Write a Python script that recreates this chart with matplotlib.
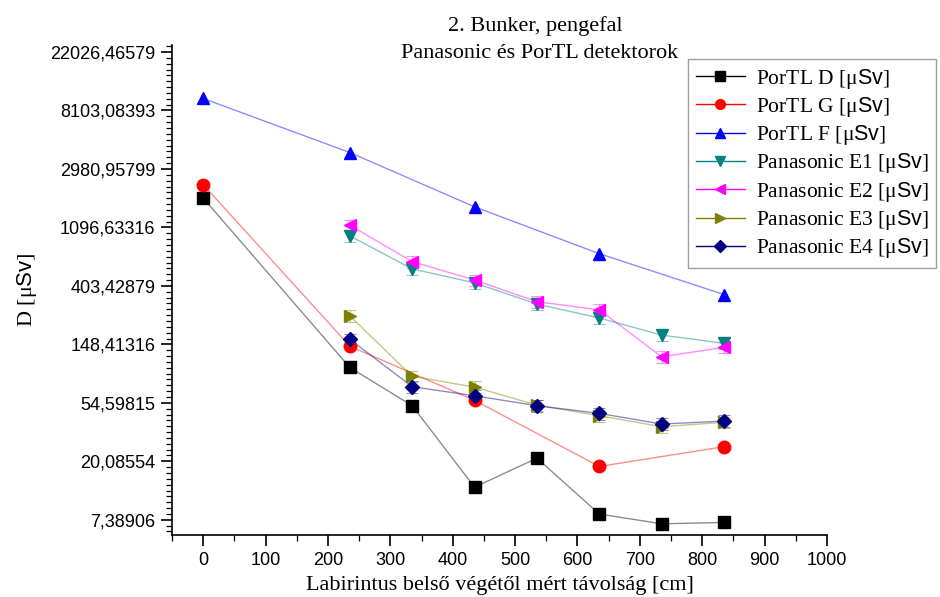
import matplotlib
matplotlib.use("Agg")
from matplotlib import pyplot as plt
from matplotlib.ticker import FixedLocator, FixedFormatter
import numpy as np

# distance from the inner end of the maze [cm]
x_full = [0, 235, 335, 435, 535, 635, 735, 835]
x_five = [0, 235, 435, 635, 835]
x_pan = [235, 335, 435, 535, 635, 735, 835]

portl_d = [1810, 100, 52, 12.9, 21.2, 8.15, 6.9, 7.06]
portl_g = [2280, 144, 57, 18.4, 25.8]
portl_f = [9950, 3950, 1560, 700, 348]

pan_e1 = [949, 540, 425, 296, 233, 174, 151]
pan_e2 = [1140, 611, 446, 308, 268, 120, 141]
pan_e3 = [242, 86, 71.5, 52.5, 43.8, 36.3, 39.2]
pan_e4 = [162, 72, 61.6, 52, 45.6, 38, 40]

err_e1 = [95, 54, 42, 30, 23, 17, 15]
err_e2 = [110, 60, 44, 30, 27, 12, 14]
err_e3 = [24, 8.6, 7.2, 5.3, 4.4, 3.6, 3.9]
err_e4 = [16, 7.2, 6.2, 5.2, 4.6, 3.8, 4.0]

unit = r'[μ$\mathsf{Sv}$]'
labels = ['PorTL D ' + unit, 'PorTL G ' + unit, 'PorTL F ' + unit,
          'Panasonic E1 ' + unit, 'Panasonic E2 ' + unit,
          'Panasonic E3 ' + unit, 'Panasonic E4 ' + unit]

serif = 'Liberation Serif'
sans = 'Liberation Sans'
plt.rcParams['mathtext.fontset'] = 'custom'
plt.rcParams['mathtext.sf'] = sans
plt.rcParams['mathtext.rm'] = serif

fig = plt.figure(figsize=(9.4, 5.97), dpi=100)
ax = fig.add_axes([172 / 940, 1 - 535 / 597, 655 / 940, 490 / 597])

def series(xs, ys, color, marker, label, yerr=None, ms=8, lms=7):
    ax.plot(xs, ys, color=color, alpha=0.45, linewidth=1.0, zorder=2)
    if yerr is not None:
        ax.errorbar(xs, ys, yerr=yerr, fmt='none', ecolor=color, alpha=0.45,
                    elinewidth=0.8, capsize=4, capthick=0.8, zorder=2)
    ax.plot(xs, ys, linestyle='none', marker=marker, color=color,
            markersize=ms, zorder=3)
    # legend handle: light line with solid marker
    h, = ax.plot([], [], color=color, marker=marker, markersize=lms,
                 linewidth=1.0, label=label)
    return h

handles = []
handles.append(series(x_full, portl_d, '#000000', 's', labels[0], lms=6.5))
handles.append(series(x_five, portl_g, '#ff0000', 'o', labels[1], ms=9))
handles.append(series(x_five, portl_f, '#0000ff', '^', labels[2], ms=9))
handles.append(series(x_pan, pan_e1, '#008080', 'v', labels[3], err_e1, ms=9))
handles.append(series(x_pan, pan_e2, '#ff00ff', '<', labels[4], err_e2, ms=9))
handles.append(series(x_pan, pan_e3, '#808000', '>', labels[5], err_e3, ms=9))
handles.append(series(x_pan, pan_e4, '#000080', 'D', labels[6], err_e4, ms=7.5, lms=6))

# y axis in natural log scale, ticks at powers of e
ax.set_yscale('log', base=np.e)
ax.set_ylim(np.exp(1.74), np.exp(10.12))
major = [np.exp(k) for k in range(2, 11)]
ax.yaxis.set_major_locator(FixedLocator(major))
ax.yaxis.set_major_formatter(FixedFormatter([f"{v:.5f}".replace('.', ',') for v in major]))
minor = [np.exp(k + j / 10) for k in range(1, 11) for j in range(1, 10)]
ax.yaxis.set_minor_locator(FixedLocator(minor))
ax.yaxis.set_minor_formatter(FixedFormatter([''] * len(minor)))

ax.set_xlim(-50, 1000)
ax.set_xticks(range(0, 1001, 100))
ax.set_xticks(range(-50, 1001, 50), minor=True)

for s in ['top', 'right']:
    ax.spines[s].set_visible(False)
for s in ['left', 'bottom']:
    ax.spines[s].set_linewidth(1.2)

ax.tick_params(which='major', direction='out', length=8, width=1.2,
               labelsize=13, pad=4)
ax.tick_params(which='minor', direction='out', length=4, width=0.9)
for lbl in ax.get_xticklabels() + ax.get_yticklabels():
    lbl.set_fontfamily(sans)

ax.set_xlabel('Labirintus belső végétől mért távolság [cm]', fontfamily=serif,
              fontsize=16, labelpad=5)
ax.set_ylabel('D ' + unit, fontfamily=serif, fontsize=16, labelpad=8)

fig.text(535 / 940, 1 - 31 / 597, '2. Bunker, pengefal', ha='center',
         va='baseline', fontfamily=serif, fontsize=16)
fig.text(540 / 940, 1 - 58 / 597, 'Panasonic és PorTL detektorok', ha='center',
         va='baseline', fontfamily=serif, fontsize=16)

leg = ax.legend(handles=handles, loc='upper left',
                bbox_to_anchor=(688 / 940, 1 - 59 / 597),
                bbox_transform=fig.transFigure, borderaxespad=0,
                prop={'family': serif, 'size': 15.5}, frameon=True,
                fancybox=False, handlelength=2.3, labelspacing=0.2,
                handletextpad=0.5, borderpad=0.35)
leg.get_frame().set_edgecolor('#888888')
leg.get_frame().set_linewidth(1.0)
for line in leg.get_lines():
    line.set_alpha(1.0)

fig.savefig('out.png', dpi=100)
